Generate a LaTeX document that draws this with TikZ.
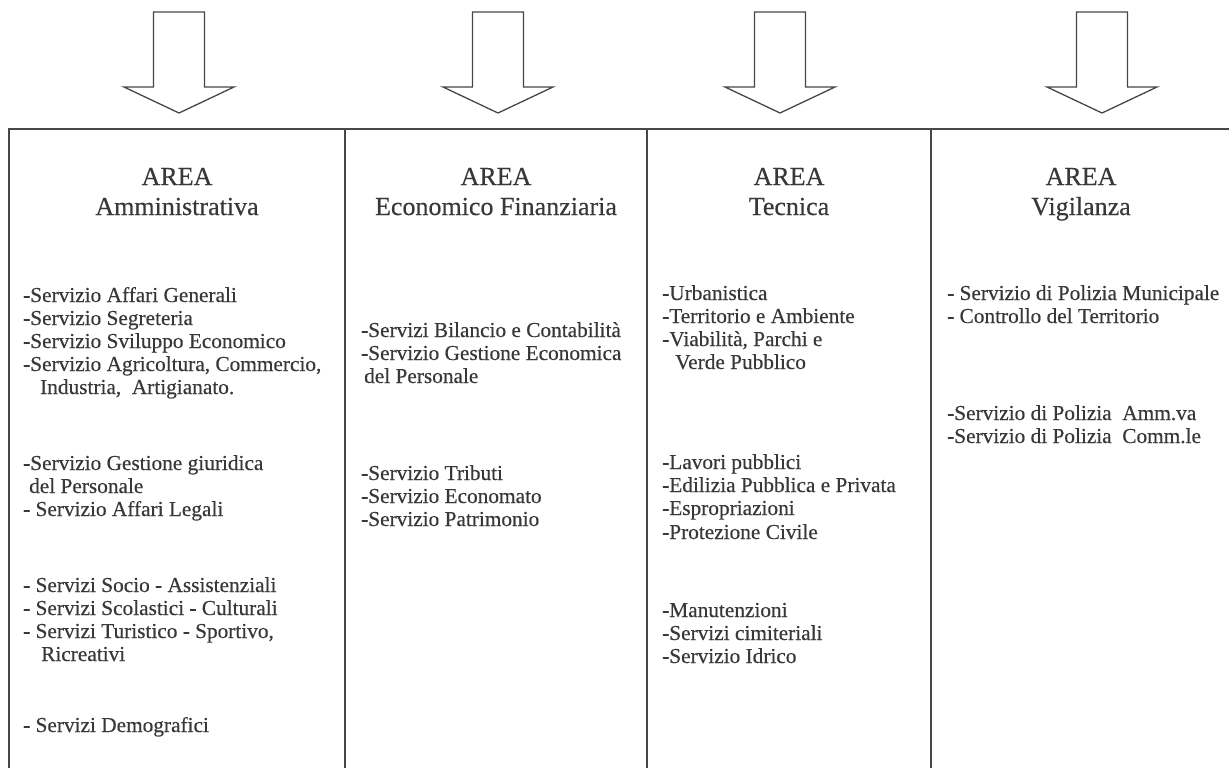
\documentclass[tikz,border=0pt]{standalone}
\usepackage{fontspec}
\setmainfont{Liberation Serif}[UprightFeatures={FakeBold=0.35}]
\begin{document}
\begin{tikzpicture}[x=1pt,y=-1pt,
  frame/.style={draw=black!72,line width=1.3pt},
  bigarrow/.style={draw=black!72,line width=1.3pt,line join=miter},
  head/.style={anchor=base,inner sep=0pt,text=black!78,font=\fontsize{26}{30}\selectfont},
  item/.style={anchor=base west,inner sep=0pt,text=black!78,font=\fontsize{21.3}{23}\selectfont}]
\useasboundingbox (0,0) rectangle (1229,768);
\fill[white] (0,0) rectangle (1229,768);
% arrows
\foreach \cx in {179,498,780,1102}{
  \draw[bigarrow] (\cx-25.5,12) -- (\cx+25.5,12) -- (\cx+25.5,87) -- (\cx+55,87)
     -- (\cx,113) -- (\cx-55,87) -- (\cx-25.5,87) -- cycle;
}
% frame
\draw[frame] (9,768) -- (9,129) -- (1229,129);
\draw[frame] (345,129) -- (345,768);
\draw[frame] (647,129) -- (647,768);
\draw[frame] (931,129) -- (931,768);
% headers
\node[head] (h1a) at (177,185) {AREA};
\node[head] (h1b) at (177,215) {Amministrativa};
\node[head] (h2a) at (496,185) {AREA};
\node[head] (h2b) at (496,215) {Economico Finanziaria};
\node[head] (h3a) at (789,185) {AREA};
\node[head] (h3b) at (789,215) {Tecnica};
\node[head] (h4a) at (1081,185) {AREA};
\node[head] (h4b) at (1081,215) {Vigilanza};
% column 1
\node[item] (a1) at (23,302) {-Servizio Affari Generali};
\node[item] (a2) at (23,325) {-Servizio Segreteria};
\node[item] (a3) at (23,348) {-Servizio Sviluppo Economico};
\node[item] (a4) at (23,371) {-Servizio Agricoltura, Commercio,};
\node[item] (a5) at (40,394) {Industria,\ \ Artigianato.};
\node[item] (a6) at (23,470) {-Servizio Gestione giuridica};
\node[item] (a7) at (29,493) {del Personale};
\node[item] (a8) at (23,516) {- Servizio Affari Legali};
\node[item] (a9) at (23,592) {- Servizi Socio - Assistenziali};
\node[item] (a10) at (23,615) {- Servizi Scolastici - Culturali};
\node[item] (a11) at (23,638) {- Servizi Turistico - Sportivo,};
\node[item] (a12) at (41,661) {Ricreativi};
\node[item] (a13) at (23,732) {- Servizi Demografici};
% column 2
\node[item] (b1) at (361,337) {-Servizi Bilancio e Contabilità};
\node[item] (b2) at (361,360) {-Servizio Gestione Economica};
\node[item] (b3) at (364,383) {del Personale};
\node[item] (b4) at (361,480) {-Servizio Tributi};
\node[item] (b5) at (361,503) {-Servizio Economato};
\node[item] (b6) at (361,526) {-Servizio Patrimonio};
% column 3
\node[item] (c1) at (662,300) {-Urbanistica};
\node[item] (c2) at (662,323) {-Territorio e Ambiente};
\node[item] (c3) at (662,346) {-Viabilità, Parchi e};
\node[item] (c4) at (675,369) {Verde Pubblico};
\node[item] (c5) at (662,469) {-Lavori pubblici};
\node[item] (c6) at (662,492) {-Edilizia Pubblica e Privata};
\node[item] (c7) at (662,515) {-Espropriazioni};
\node[item] (c8) at (662,539) {-Protezione Civile};
\node[item] (c9) at (662,617) {-Manutenzioni};
\node[item] (c10) at (662,640) {-Servizi cimiteriali};
\node[item] (c11) at (662,663) {-Servizio Idrico};
% column 4
\node[item] (d1) at (947,300) {- Servizio di Polizia Municipale};
\node[item] (d2) at (947,323) {- Controllo del Territorio};
\node[item] (d3) at (947,420) {-Servizio di Polizia\ \ Amm.va};
\node[item] (d4) at (947,443) {-Servizio di Polizia\ \ Comm.le};
\end{tikzpicture}
\end{document}
